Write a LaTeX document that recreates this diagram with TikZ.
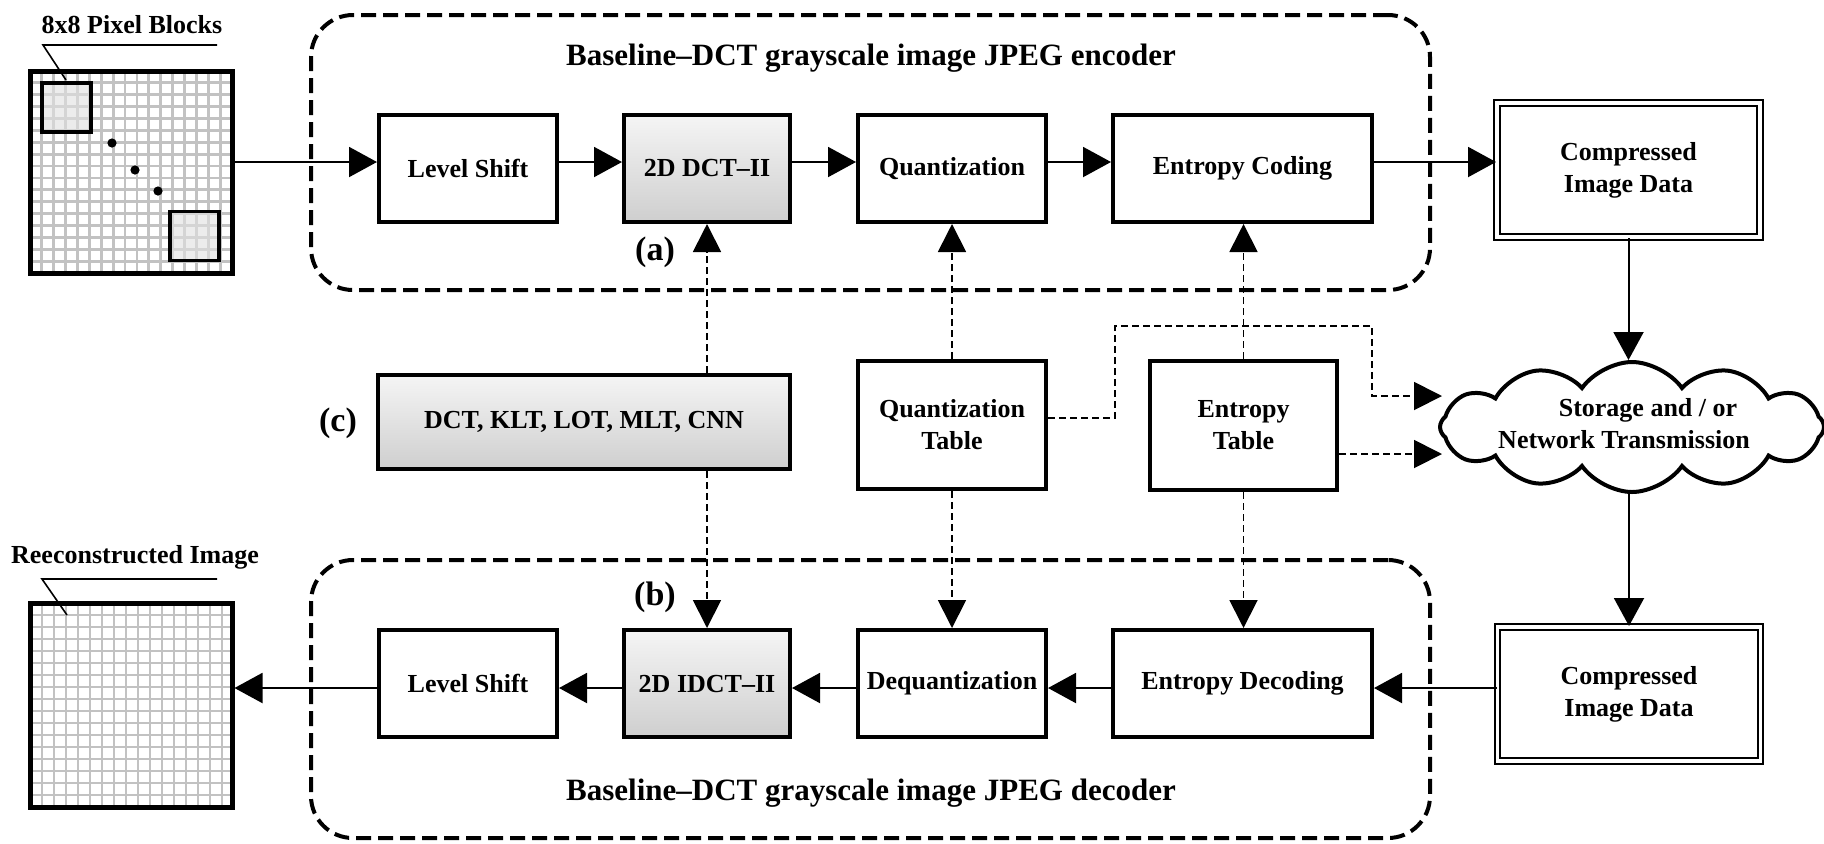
\documentclass[tikz,border=0pt]{standalone}
\usepackage{fontspec}
\setmainfont{Liberation Serif}
\usetikzlibrary{arrows.meta,shapes.symbols}
\definecolor{gridgray}{HTML}{C2C2C2}
\begin{document}
\begin{tikzpicture}[x=0.5pt,y=-0.5pt,
  box/.style={draw, line width=2pt, fill=white, font=\fontsize{13}{16}\selectfont\bfseries, align=center, inner sep=0pt},
  gbox/.style={box, top color=black!4, bottom color=black!19},
  cbox/.style={box, double, line width=1pt, double distance=1.6pt, minimum width=131.5pt, minimum height=67pt},
  arr/.style={line width=1pt, -{Triangle[length=14pt,width=15pt]}},
  darr/.style={line width=0.9pt, dash pattern=on 3.5pt off 2pt, -{Triangle[length=14pt,width=14pt]}},
  grp/.style={draw, line width=2pt, dash pattern=on 7.5pt off 3.5pt, rounded corners=21pt, inner sep=0pt},
  ttl/.style={font=\fontsize{15.5}{18}\selectfont\bfseries},
  lbl/.style={font=\fontsize{13}{16}\selectfont\bfseries},
  tag/.style={font=\fontsize{17}{20}\selectfont\bfseries},
  gridline/.style={draw=gridgray, line width=1.4pt},
  lead/.style={line width=0.8pt}
]
\useasboundingbox (0,0) rectangle (1824,843);

% group frames
\node[grp, minimum width=559.5pt, minimum height=137.5pt] (enc) at (870.5,152.5) {};
\node[grp, minimum width=559.5pt, minimum height=139pt] (dec) at (870.5,699) {};
\node[ttl] (enctitle) at (871,58) {Baseline--DCT grayscale image JPEG encoder};
\node[ttl] (dectitle) at (871,793) {Baseline--DCT grayscale image JPEG decoder};

% input image
\foreach \i in {1,...,16} {
  \draw[gridline] ({30+\i*202/17},71) -- ({30+\i*202/17},273);
  \draw[gridline] (30,{71+\i*202/17}) -- (232,{71+\i*202/17});
}
\node[draw, line width=1.6pt, fill=black!12, fill opacity=0.6, draw opacity=1, minimum size=24.5pt, inner sep=0pt] (blk1) at (66.5,107.5) {};
\node[draw, line width=1.6pt, fill=black!12, fill opacity=0.6, draw opacity=1, minimum size=24.5pt, inner sep=0pt] (blk2) at (194.5,236) {};
\fill (112,143) circle (2.3pt);
\fill (135,170) circle (2.3pt);
\fill (158,191) circle (2.3pt);
\node[draw, line width=2.5pt, minimum size=101pt, inner sep=0pt] (img1) at (131,172) {};
\node[lbl] (imglbl1) at (132,25) {8x8 Pixel Blocks};
\coordinate (l1a) at (217,45);
\coordinate (l1b) at (43,45);
\coordinate (l1c) at (66,80);
\draw[lead] (l1a) -- (l1b) -- (l1c);

% output image
\foreach \i in {1,...,16} {
  \draw[gridline] ({30+\i*204/17},603) -- ({30+\i*204/17},807);
  \draw[gridline] (30,{603+\i*204/17}) -- (232,{603+\i*204/17});
}
\node[draw, line width=2.5pt, minimum width=101pt, minimum height=102pt, inner sep=0pt] (img2) at (131,705) {};
\node[lbl] (imglbl2) at (135,557) {Reeconstructed Image};
\coordinate (l2a) at (217,579);
\coordinate (l2b) at (42,579);
\coordinate (l2c) at (67,615);
\draw[lead] (l2a) -- (l2b) -- (l2c);

% encoder row
\node[box, minimum width=89pt, minimum height=53.5pt] (ls1) at (468,168.5) {Level Shift};
\node[gbox, minimum width=83pt, minimum height=53.5pt] (dct1) at (707,168.5) {2D DCT--II};
\node[box, minimum width=94pt, minimum height=53.5pt] (q1) at (952,168.5) {Quantization};
\node[box, minimum width=129.5pt, minimum height=53.5pt] (ec1) at (1242.5,168.5) {Entropy Coding};
\node[cbox] (cid1) at (1628.5,170) {Compressed\\Image Data};

% middle row
\node[gbox, minimum width=206pt, minimum height=47pt] (trans) at (584,422) {DCT, KLT, LOT, MLT, CNN};
\node[box, minimum width=94pt, minimum height=64pt] (qt) at (952,425) {Quantization\\Table};
\node[box, minimum width=93.5pt, minimum height=64.5pt] (et) at (1243.5,425.5) {Entropy\\Table};
\node[cloud, draw, line width=2pt, cloud puffs=12, cloud puff arc=110, aspect=3, minimum width=192pt, minimum height=65pt, inner sep=0pt] (cloud) at (1632,427) {};
\node[lbl, align=center] (cloudtxt) at (1624,424) {\hspace*{24pt}Storage and / or\\Network Transmission};

% decoder row
\node[box, minimum width=89pt, minimum height=53.5pt] (ls2) at (468,683.5) {Level Shift};
\node[gbox, minimum width=83pt, minimum height=53.5pt] (idct2) at (707,683.5) {2D IDCT--II};
\node[box, minimum width=94pt, minimum height=53.5pt] (dq2) at (952,683.5) {Dequantization};
\node[box, minimum width=129.5pt, minimum height=53.5pt] (ed2) at (1242.5,683.5) {Entropy Decoding};
\node[cbox] (cid2) at (1629,694) {Compressed\\Image Data};

% tags
\node[tag] (taga) at (655,252) {(a)};
\node[tag] (tagb) at (655,597) {(b)};
\node[tag] (tagc) at (338,423) {(c)};

% solid flow
\coordinate (toprow) at (0,162);
\coordinate (botrow) at (0,688);
\draw[arr] (img1.east |- toprow) -- (ls1.west |- toprow);
\draw[arr] (ls1.east |- toprow) -- (dct1.west |- toprow);
\draw[arr] (dct1.east |- toprow) -- (q1.west |- toprow);
\draw[arr] (q1.east |- toprow) -- (ec1.west |- toprow);
\draw[arr] (ec1.east |- toprow) -- (cid1.west |- toprow);
\draw[arr] (cid1.south) -- (cid1.south |- cloud.north);
\draw[arr] (cid2.north |- cloud.south) -- (cid2.north);
\draw[arr] (cid2.west |- botrow) -- (ed2.east |- botrow);
\draw[arr] (ed2.west |- botrow) -- (dq2.east |- botrow);
\draw[arr] (dq2.west |- botrow) -- (idct2.east |- botrow);
\draw[arr] (idct2.west |- botrow) -- (ls2.east |- botrow);
\draw[arr] (ls2.west |- botrow) -- (img2.east |- botrow);

% dashed connectors
\draw[darr] (trans.north -| dct1.south) -- (dct1.south);
\draw[darr] (trans.south -| idct2.north) -- (idct2.north);
\draw[darr] (qt.north) -- (q1.south);
\draw[darr] (qt.south) -- (dq2.north);
\draw[darr] (et.north) -- (et.north |- ec1.south);
\draw[darr] (et.south) -- (et.south |- ed2.north);
\coordinate (k1) at (1115,326);
\coordinate (k2) at (1372,326);
\coordinate (cin1) at (1442,396);
\coordinate (cin2) at (1442,454);
\draw[darr] ([yshift=3.5pt]qt.east) -| (k1) -- (k2) |- (cin1);
\draw[darr] ([yshift=-14.25pt]et.east) -- (cin2);
\end{tikzpicture}
\end{document}
